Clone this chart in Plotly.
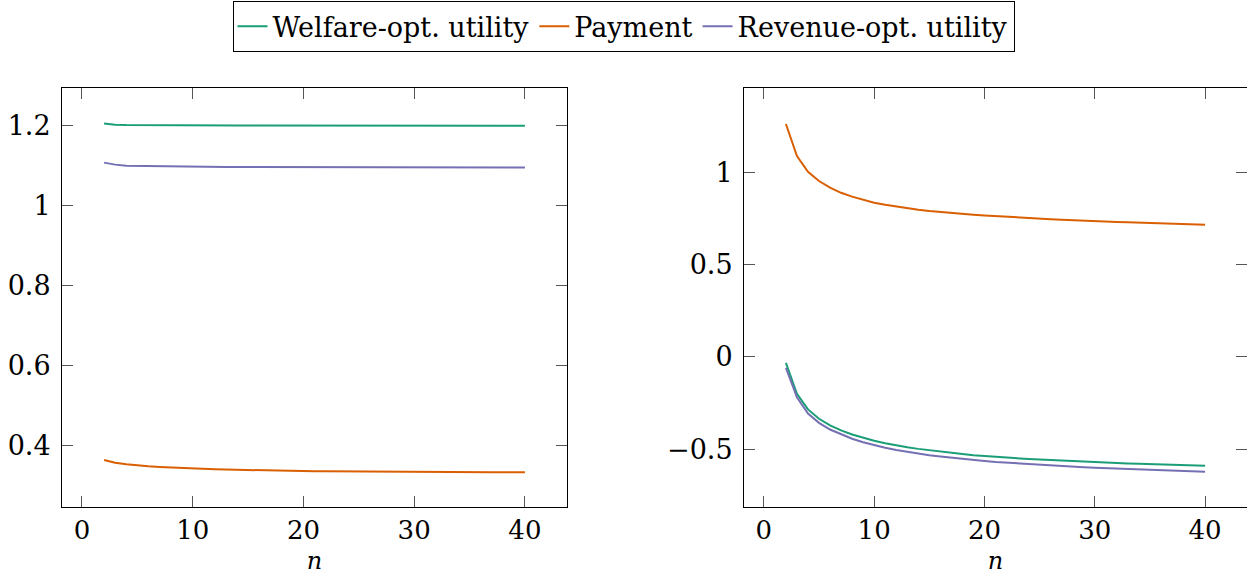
import plotly.graph_objects as go

n = list(range(2, 41))

# Left panel
left_welfare = [1.206, 1.203, 1.202, 1.2017, 1.2015, 1.2013, 1.2012, 1.2011, 1.201, 1.201,
                1.2009, 1.2009, 1.2008, 1.2008, 1.2008, 1.2007, 1.2007, 1.2007, 1.2007, 1.2006,
                1.2006, 1.2006, 1.2006, 1.2006, 1.2005, 1.2005, 1.2005, 1.2005, 1.2005, 1.2005,
                1.2005, 1.2005, 1.2005, 1.2005, 1.2005, 1.2005, 1.2005, 1.2005, 1.2005]
left_payment = [0.363, 0.356, 0.352, 0.349, 0.347, 0.3455, 0.344, 0.3427, 0.3415, 0.3405,
                0.3396, 0.3388, 0.3381, 0.3375, 0.3369, 0.3364, 0.3359, 0.3355, 0.3351, 0.3347,
                0.3344, 0.3341, 0.3338, 0.3336, 0.3334, 0.3332, 0.3330, 0.3329, 0.3328, 0.3327,
                0.3326, 0.3325, 0.3324, 0.3323, 0.3322, 0.3321, 0.3321, 0.3320, 0.3320]
left_revenue = [1.108, 1.103, 1.100, 1.0995, 1.099, 1.0985, 1.098, 1.0978, 1.0976, 1.0974,
                1.0972, 1.0971, 1.097, 1.0969, 1.0968, 1.0967, 1.0966, 1.0966, 1.0965, 1.0965,
                1.0964, 1.0964, 1.0963, 1.0963, 1.0962, 1.0962, 1.0962, 1.0961, 1.0961, 1.0961,
                1.0961, 1.096, 1.096, 1.096, 1.096, 1.096, 1.096, 1.096, 1.096]

# Right panel
right_welfare = [-0.033, -0.200, -0.285, -0.336, -0.372, -0.399, -0.421, -0.439, -0.455, -0.468,
                 -0.480, -0.490, -0.499, -0.507, -0.514, -0.521, -0.527, -0.533, -0.538, -0.542,
                 -0.546, -0.550, -0.554, -0.557, -0.560, -0.563, -0.566, -0.569, -0.571, -0.573,
                 -0.576, -0.578, -0.580, -0.582, -0.584, -0.586, -0.588, -0.589, -0.591]
right_payment = [1.262, 1.088, 1.003, 0.953, 0.917, 0.889, 0.868, 0.850, 0.835, 0.824,
                 0.814, 0.805, 0.797, 0.790, 0.784, 0.779, 0.774, 0.770, 0.766, 0.762,
                 0.758, 0.755, 0.752, 0.749, 0.746, 0.743, 0.740, 0.737, 0.735, 0.733,
                 0.731, 0.729, 0.727, 0.725, 0.723, 0.721, 0.719, 0.718, 0.716]
right_revenue = [-0.060, -0.219, -0.307, -0.358, -0.394, -0.421, -0.444, -0.463, -0.479, -0.493,
                 -0.505, -0.515, -0.524, -0.533, -0.540, -0.547, -0.553, -0.559, -0.565, -0.570,
                 -0.574, -0.578, -0.582, -0.586, -0.589, -0.592, -0.595, -0.598, -0.601, -0.603,
                 -0.606, -0.608, -0.611, -0.613, -0.615, -0.617, -0.619, -0.621, -0.623]

series_names = ["Welfare-opt. utility", "Payment", "Revenue-opt. utility"]
colors = ["#1b9e77", "#d95f02", "#7570b3"]

x_ticks = [0, 10, 20, 30, 40]
x_ticktext = ["0", "10", "20", "30", "40"]
left_yticks = [0.4, 0.6, 0.8, 1.0, 1.2]
left_yticktext = ["0.4", "0.6", "0.8", "1", "1.2"]
right_yticks = [-0.5, 0, 0.5, 1]
right_yticktext = ["\u22120.5", "0", "0.5", "1"]

FONT = "DejaVu Serif"
FS = 27

fig = go.Figure()
for name, col, yl in zip(series_names, colors, [left_welfare, left_payment, left_revenue]):
    fig.add_trace(go.Scatter(x=n, y=yl, mode="lines", name=name,
                             line=dict(color=col, width=2), xaxis="x", yaxis="y",
                             legendgroup=name, showlegend=True))
for name, col, yr in zip(series_names, colors, [right_welfare, right_payment, right_revenue]):
    fig.add_trace(go.Scatter(x=n, y=yr, mode="lines", name=name,
                             line=dict(color=col, width=2), xaxis="x2", yaxis="y2",
                             legendgroup=name, showlegend=False))

W, H = 1247, 575
ydom = [1 - 507 / H, 1 - 88 / H]

common_axis = dict(showline=True, linecolor="black", linewidth=1, mirror="allticks",
                   ticks="inside", ticklen=11, tickcolor="#555", tickwidth=1,
                   showgrid=False, zeroline=False,
                   tickfont=dict(family=FONT, size=FS, color="black"))

xtick_font = dict(family=FONT, size=26, color="black")
title_font = dict(family=FONT, size=24)

fig.update_layout(
    width=W, height=H,
    margin=dict(l=0, r=0, t=0, b=0),
    paper_bgcolor="white", plot_bgcolor="white",
    font=dict(family=FONT, size=FS, color="black"),
    xaxis=dict(domain=[62 / W, 567 / W], range=[-1.8, 43.8], anchor="y",
               tickvals=x_ticks, ticktext=x_ticktext, ticklabelstandoff=0,
               title=dict(text="<i>n</i>", standoff=7, font=title_font),
               **{**common_axis, "tickfont": xtick_font}),
    yaxis=dict(domain=ydom, range=[0.245, 1.295], anchor="x",
               tickvals=left_yticks, ticktext=left_yticktext, ticklabelstandoff=5,
               **common_axis),
    xaxis2=dict(domain=[744 / W, 1.0], range=[-1.8, 43.8], anchor="y2",
                tickvals=x_ticks, ticktext=x_ticktext, ticklabelstandoff=0,
                title=dict(text="<i>n</i>", standoff=7, font=title_font),
                **{**common_axis, "tickfont": xtick_font}),
    yaxis2=dict(domain=ydom, range=[-0.814, 1.457], anchor="x2",
                tickvals=right_yticks, ticktext=right_yticktext, ticklabelstandoff=5,
                **common_axis),
    legend=dict(orientation="h", x=0.5, xanchor="center", y=0.998, yanchor="top",
                bordercolor="black", borderwidth=1, bgcolor="white",
                font=dict(family=FONT, size=FS), itemwidth=30, tracegroupgap=0),
    showlegend=True,
)

fig.write_html("out.html")
